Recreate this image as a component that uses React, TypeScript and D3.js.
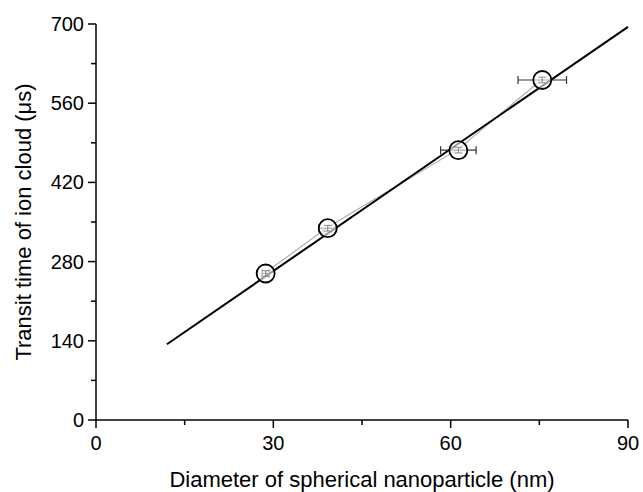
import React, { useEffect, useRef } from "react";
import * as d3 from "d3";

const diameters = [28.7, 39.2, 61.3, 75.5];
const transitTimes = [259, 339, 477, 601];
const xErrors = [0.6, 1.5, 3.0, 4.1];
const yErrors = [5, 5, 5, 5];
const fitX = [12, 90];
const fitSlope = 7.19;
const fitIntercept = 47.7;
const xTicks = [0, 30, 60, 90];
const xMinorTicks = [15, 45, 75];
const yTicks = [0, 140, 280, 420, 560, 700];
const yMinorTicks = [70, 210, 350, 490, 630];

const W = 643, H = 492;
const M = { left: 96, right: 628, top: 24, bottom: 420 };
const FONT = "'Liberation Sans', Arial, sans-serif";

export default function App() {
  const ref = useRef<SVGSVGElement>(null);
  useEffect(() => {
    const svg = d3.select(ref.current);
    svg.selectAll("*").remove();
    const x = d3.scaleLinear().domain([0, 90]).range([M.left, M.right]);
    const y = d3.scaleLinear().domain([0, 700]).range([M.bottom, M.top]);

    const g = svg.append("g");
    g.append("line").attr("x1", M.left).attr("x2", M.right).attr("y1", M.bottom).attr("y2", M.bottom)
      .attr("stroke", "#000").attr("stroke-width", 1.5);
    g.append("line").attr("x1", M.left).attr("x2", M.left).attr("y1", M.top).attr("y2", M.bottom)
      .attr("stroke", "#000").attr("stroke-width", 1.5);
    xTicks.forEach(t => {
      g.append("line").attr("x1", x(t)).attr("x2", x(t)).attr("y1", M.bottom).attr("y2", M.bottom + 8)
        .attr("stroke", "#000").attr("stroke-width", 1.5);
      g.append("text").attr("x", x(t)).attr("y", M.bottom + 30).attr("text-anchor", "middle")
        .attr("font-family", FONT).attr("font-size", 20).text(t);
    });
    xMinorTicks.forEach(t => {
      g.append("line").attr("x1", x(t)).attr("x2", x(t)).attr("y1", M.bottom).attr("y2", M.bottom + 5)
        .attr("stroke", "#000").attr("stroke-width", 1.5);
    });
    yTicks.forEach(t => {
      g.append("line").attr("x1", M.left - 8).attr("x2", M.left).attr("y1", y(t)).attr("y2", y(t))
        .attr("stroke", "#000").attr("stroke-width", 1.5);
      g.append("text").attr("x", M.left - 12).attr("y", y(t) + 7).attr("text-anchor", "end")
        .attr("font-family", FONT).attr("font-size", 20).text(t);
    });
    yMinorTicks.forEach(t => {
      g.append("line").attr("x1", M.left - 5).attr("x2", M.left).attr("y1", y(t)).attr("y2", y(t))
        .attr("stroke", "#000").attr("stroke-width", 1.5);
    });
    g.append("text").attr("x", 362).attr("y", 487).attr("text-anchor", "middle")
      .attr("font-family", FONT).attr("font-size", 22).text("Diameter of spherical nanoparticle (nm)");
    g.append("text").attr("transform", `translate(31,222) rotate(-90)`)
      .attr("text-anchor", "middle").attr("font-family", FONT).attr("font-size", 22)
      .text("Transit time of ion cloud (μs)");

    const line = d3.line<number>().x((_, i) => x(diameters[i])).y(d => y(d));
    g.append("path").attr("d", line(transitTimes) as string).attr("fill", "none")
      .attr("stroke", "#aaa").attr("stroke-width", 1.1).attr("transform", "translate(0,-1)");
    const fitLine = d3.line<number>().x(d => x(d)).y(d => y(fitIntercept + fitSlope * d));
    g.append("path").attr("d", fitLine(fitX) as string).attr("fill", "none")
      .attr("stroke", "#000").attr("stroke-width", 2);

    diameters.forEach((d, i) => {
      const cx = x(d), cy = y(transitTimes[i]);
      const x1 = x(d - xErrors[i]), x2 = x(d + xErrors[i]);
      g.append("line").attr("x1", x1).attr("x2", x2).attr("y1", cy).attr("y2", cy)
        .attr("stroke", "#333").attr("stroke-width", 1.2);
      [x1, x2].forEach(xx => g.append("line").attr("x1", xx).attr("x2", xx).attr("y1", cy - 4).attr("y2", cy + 4)
        .attr("stroke", "#333").attr("stroke-width", 1.2));
      g.append("circle").attr("cx", cx).attr("cy", cy).attr("r", 9).attr("fill", "#fff").attr("fill-opacity", 0.6)
        .attr("stroke", "#000").attr("stroke-width", 1.8);
      const y1 = y(transitTimes[i] - yErrors[i]), y2 = y(transitTimes[i] + yErrors[i]);
      g.append("line").attr("x1", cx).attr("x2", cx).attr("y1", y1).attr("y2", y2)
        .attr("stroke", "#888").attr("stroke-width", 1);
      [y1, y2].forEach(yy => g.append("line").attr("x1", cx - 4).attr("x2", cx + 4).attr("y1", yy).attr("y2", yy)
        .attr("stroke", "#888").attr("stroke-width", 1));
    });
  }, []);
  return (
    <svg ref={ref} width={W} height={H} style={{ position: "absolute", left: 0, top: 0, background: "#fff" }} />
  );
}
